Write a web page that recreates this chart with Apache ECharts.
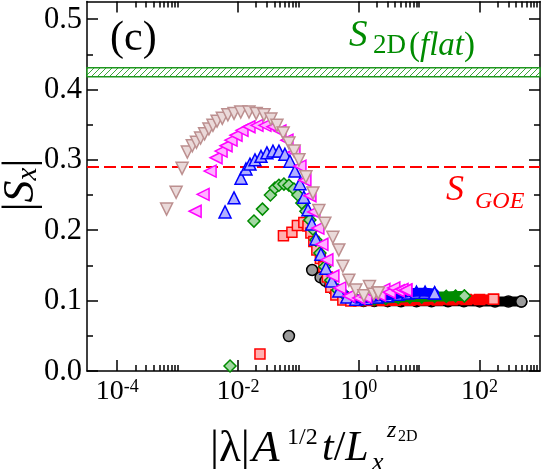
<!DOCTYPE html>
<html><head><meta charset="utf-8">
<script src="https://cdn.jsdelivr.net/npm/echarts@6/dist/echarts.min.js"></script>
<style>html,body{margin:0;padding:0;background:#fff}#c{width:543px;height:469px}</style>
</head><body><div id="c"></div><script>
// ---- tick values / labels ----
const xMajorTicks = [1e-4, 1e-2, 1, 100];
const xTickLabels = ['-4', '-2', '0', '2'];
const xMinorTicks = [2e-4,3e-4,4e-4,5e-4,6e-4,7e-4,8e-4,9e-4,1e-3,
                     2e-2,3e-2,4e-2,5e-2,6e-2,7e-2,8e-2,9e-2,1e-1,
                     2,3,4,5,6,7,8,9,10,
                     200,300,400,500,600,700,800,900];
const yMajorTicks = [0, 0.1, 0.2, 0.3, 0.4, 0.5];
const yTickLabels = ['0.0', '0.1', '0.2', '0.3', '0.4', '0.5'];
const yMinorTicks = [0.05, 0.15, 0.25, 0.35, 0.45];

// ---- reference levels ----
const sGOE = 0.2936;
const s2DLow = 0.418;
const s2DHigh = 0.431;

// ---- data ----
const blackX = [0.0697,0.169,0.233,0.281,0.340,0.386,0.467,0.603,0.882,1.2,1.8,3,5,9,16,30,55,100,180,300,490];
const blackY = [0.0497,0.1435,0.133,0.128,0.122,0.116,0.110,0.1055,0.1009,0.0995,0.0993,0.0992,0.0991,0.099,0.099,0.099,0.099,0.0989,0.0988,0.0987,0.0986];

const redX = [0.0231,0.0565,0.0781,0.0962,0.123,0.144,0.161,0.180,0.202,0.231,0.264,0.302,0.344,0.417,0.544,0.738,1.0,1.5,2.5,4,7,12,20,35,60,100,170];
const redY = [0.024,0.192,0.197,0.2067,0.211,0.206,0.196,0.184,0.172,0.160,0.148,0.1335,0.119,0.108,0.101,0.0995,0.0998,0.1,0.1003,0.1005,0.1007,0.101,0.101,0.1012,0.1015,0.1017,0.102];

const greenX = [0.00738,0.01837,0.0254,0.0344,0.0409,0.0476,0.0576,0.0697,0.0843,0.0981,0.114,0.133,0.155,0.174,0.195,0.227,0.274,0.344,0.450,0.610,0.859,1.2,1.8,2.8,4.5,7,11,18,28,40,56];
const greenY = [0.0071,0.213,0.230,0.250,0.260,0.264,0.2656,0.264,0.2585,0.250,0.2386,0.227,0.2145,0.2017,0.186,0.1676,0.148,0.129,0.115,0.1065,0.102,0.1015,0.102,0.103,0.104,0.105,0.105,0.106,0.106,0.1065,0.1065];

const blueX = [0.0061,0.00859,0.01122,0.01355,0.01578,0.0191,0.0240,0.0301,0.0379,0.0476,0.0598,0.0724,0.0875,0.106,0.123,0.144,0.167,0.195,0.236,0.285,0.358,0.467,0.633,0.892,1.3,2,3,4.5,6.5,9,12.5,18];
const blueY = [0.226,0.246,0.274,0.287,0.294,0.300,0.305,0.310,0.3125,0.3125,0.308,0.298,0.284,0.266,0.247,0.229,0.209,0.1875,0.166,0.146,0.128,0.1136,0.105,0.102,0.103,0.105,0.107,0.109,0.111,0.112,0.112,0.111];

const magentaX = [0.00195,0.00264,0.00345,0.00433,0.00524,0.00634,0.00766,0.00927,0.01164,0.0152,0.0206,0.0279,0.0379,0.0494,0.0646,0.0843,0.106,0.128,0.155,0.180,0.210,0.245,0.296,0.372,0.485,0.684,1.0,1.3,1.7,2.2,2.6,3.2,3.8,4.5,5.2,6.0];
const magentaY = [0.227,0.251,0.284,0.303,0.3125,0.320,0.328,0.335,0.342,0.347,0.349,0.349,0.347,0.341,0.328,0.311,0.291,0.271,0.249,0.226,0.203,0.180,0.158,0.135,0.118,0.1065,0.1037,0.105,0.11,0.108,0.116,0.112,0.118,0.114,0.116,0.115];

const brownX = [6.58e-4,9.44e-4,1.186e-3,1.45e-3,1.75e-3,2.05e-3,2.4e-3,2.8e-3,3.3e-3,3.85e-3,4.5e-3,5.5e-3,6.8e-3,8.6e-3,0.0111,0.0152,0.0200,0.0269,0.0350,0.0441,0.0560,0.0697,0.085,0.102,0.133,0.174,0.218,0.274,0.372,0.467,0.544,0.684,0.892,1.21,1.5,1.77,2.1];
const brownY = [0.230,0.254,0.288,0.311,0.320,0.325,0.331,0.337,0.344,0.349,0.355,0.359,0.364,0.366,0.368,0.368,0.366,0.364,0.358,0.349,0.338,0.324,0.3125,0.300,0.276,0.253,0.228,0.210,0.190,0.172,0.149,0.129,0.115,0.107,0.12,0.109,0.111];

const SERIF = '"Liberation Serif","Times New Roman",serif';

function makeHatch() {
  const c = document.createElement('canvas');
  c.width = 6; c.height = 6;
  const g = c.getContext('2d');
  g.fillStyle = '#ffffff'; g.fillRect(0,0,6,6);
  g.strokeStyle = '#3aa83a'; g.lineWidth = 1;
  g.beginPath();
  g.moveTo(-1,7); g.lineTo(7,-1);
  g.moveTo(-1,1); g.lineTo(1,-1);
  g.moveTo(5,7); g.lineTo(7,5);
  g.stroke();
  return c;
}

function curve(X, Y, color, fill, symbol, size, rot, bandWidth, z) {
  const pts = X.map((x, i) => [x, Y[i]]);
  const out = [{
    type: 'scatter', data: pts, symbol: symbol, symbolSize: size, symbolRotate: rot,
    itemStyle: { color: fill, borderColor: color, borderWidth: 1.5, opacity: 1 },
    z: z, clip: false, silent: true
  }];
  if (bandWidth) {
    out.push({
      type: 'line', data: pts.filter(p => p[0] >= 0.85), showSymbol: false,
      lineStyle: { color: color, width: bandWidth, cap: 'round', join: 'round' },
      z: z + 1, silent: true, clip: false
    });
  }
  out.push({
    type: 'scatter', data: [pts[pts.length - 1]], symbol: symbol, symbolSize: size, symbolRotate: rot,
    itemStyle: { color: fill, borderColor: color, borderWidth: 1.5, opacity: 1 },
    z: z + 2, clip: false, silent: true
  });
  return out;
}

const chart = echarts.init(document.getElementById('c'), null, { renderer: 'canvas' });
const XMIN = Math.pow(10, -4.5), XMAX = 1000;
const axisLineStyle = { color: '#000', width: 1.5 };

function xAx(pos, ticks, len, line) {
  return {
    type: 'log', logBase: 10, min: XMIN, max: XMAX, position: pos,
    axisLine: { show: line, onZero: false, lineStyle: axisLineStyle },
    axisTick: { show: true, inside: true, length: len, customValues: ticks, lineStyle: { color: '#000', width: 1.5 } },
    axisLabel: { show: false },
    splitLine: { show: false }, minorTick: { show: false }
  };
}
function yAx(pos, ticks, len, line) {
  return {
    type: 'value', min: 0, max: 0.525, position: pos,
    axisLine: { show: line, onZero: false, lineStyle: axisLineStyle },
    axisTick: { show: true, inside: true, length: len, customValues: ticks, lineStyle: { color: '#000', width: 1.5 } },
    axisLabel: { show: false },
    splitLine: { show: false }, minorTick: { show: false }
  };
}

const series = [];
series.push({
  type: 'line', data: [], xAxisIndex: 0, yAxisIndex: 0, z: 1, silent: true,
  markArea: {
    silent: true,
    itemStyle: { color: { image: makeHatch(), repeat: 'repeat' }, borderColor: '#1e961e', borderWidth: 1.5 },
    data: [[{ yAxis: s2DLow }, { yAxis: s2DHigh }]]
  },
  markLine: {
    silent: true, symbol: 'none', label: { show: false },
    lineStyle: { color: '#ff0000', width: 2.2, type: [12, 5] },
    data: [{ yAxis: sGOE }]
  }
});
series.push(...curve(blackX, blackY, '#000000', '#9c9c9c', 'circle', 11, 0, 10, 10));
series.push(...curve(redX, redY, '#ff0000', '#ffb0b0', 'rect', 10, 0, 10, 20));
series.push(...curve(greenX, greenY, '#008b00', '#a3d6a3', 'diamond', 12, 0, 10, 30));
series.push(...curve(blueX, blueY, '#0000ff', '#b0b0ff', 'triangle', 12, 0, 9, 40));
series.push(...curve(magentaX, magentaY, '#ff00ff', '#ffb0ff', 'triangle', 12, 90, 0, 50));
series.push(...curve(brownX, brownY, '#bc8f8f', '#ead9d9', 'triangle', 12, 180, 0, 60));

chart.setOption({
  animation: false,
  backgroundColor: '#fff',
  grid: { left: 87, right: 3, top: 1.5, bottom: 98, containLabel: false },
  xAxis: [
    xAx('bottom', xMajorTicks, 11, true),
    xAx('top', xMajorTicks, 11, true),
    xAx('bottom', xMinorTicks, 6, false),
    xAx('top', xMinorTicks, 6, false)
  ],
  yAxis: [
    yAx('left', yMajorTicks, 11, true),
    yAx('right', yMajorTicks, 11, true),
    yAx('left', yMinorTicks, 6, false),
    yAx('right', yMinorTicks, 6, false)
  ],
  series: series
});

// ---- texts ----
function t(x, y, text, fs, style, color, align) {
  return {
    type: 'text', x: x, y: y, z: 100, silent: true,
    style: { text: text, fontFamily: SERIF, fontSize: fs, fontStyle: style || 'normal', fill: color || '#000', align: align || 'left', verticalAlign: 'middle' }
  };
}
function rt(x, y, text, rich, align, valign, extra) {
  return Object.assign({
    type: 'text', x: x, y: y, z: 100, silent: true,
    style: { text: text, rich: rich, align: align || 'left', verticalAlign: valign || 'middle' }
  }, extra || {});
}
const G = '#008b00';
const graphic = [];

// tick labels placed through the axes' own scales
const axisLeft = chart.convertToPixel({ xAxisIndex: 0 }, XMIN);
const axisBottom = chart.convertToPixel({ yAxisIndex: 0 }, 0);
yMajorTicks.forEach((v, i) => {
  graphic.push(t(axisLeft - 5, chart.convertToPixel({ yAxisIndex: 0 }, v) + 0.5, yTickLabels[i], 30.5, 'normal', '#000', 'right'));
});
xMajorTicks.forEach((v, i) => {
  graphic.push(rt(chart.convertToPixel({ xAxisIndex: 0 }, v), axisBottom + 7, '{b|10}{s|' + xTickLabels[i] + '}', {
    b: { fontFamily: SERIF, fontSize: 28, fill: '#000', lineHeight: 28, verticalAlign: 'bottom' },
    s: { fontFamily: SERIF, fontSize: 18, fill: '#000', lineHeight: 18, verticalAlign: 'top', padding: [0, 0, 20, 0] }
  }, 'center', 'top'));
});

const U = (fs, c) => ({ fontFamily: SERIF, fontSize: fs, fill: c || '#000' });
const I = (fs, c) => ({ fontFamily: SERIF, fontSize: fs, fontStyle: 'italic', fill: c || '#000' });

graphic.push(t(110, 39, '(c)', 42));
graphic.push(t(349, 36, 'S', 37, 'italic', G));
graphic.push(t(373, 46, '2D', 27, 'normal', G));
graphic.push(rt(409, 46, '{u|(}{i|flat}{u|)}', { u: U(33, G), i: I(33, G) }));
graphic.push(t(446, 191, 'S', 36, 'italic', '#ff0000'));
graphic.push(t(475, 202, 'GOE', 24, 'italic', '#ff0000'));

// x-axis title
graphic.push(t(210, 449, '|λ|', 45));
graphic.push(t(252, 449, 'A', 45, 'italic'));
graphic.push(t(287, 438, '1/2', 24));
graphic.push(rt(322, 449, '{i|t}{u|/}{i|L}', { u: U(42), i: I(42) }));
graphic.push(t(372, 463, 'x', 26, 'italic'));
graphic.push(t(387, 431, 'z', 24, 'italic'));
graphic.push(t(398, 437, '2D', 16));

// y-axis title (rotated)
graphic.push(rt(21, 185, '{u||}{i|S}{sx|x}{u||}', {
  u: Object.assign(U(44), { lineHeight: 44 }),
  i: Object.assign(I(44), { lineHeight: 44 }),
  sx: Object.assign(I(29), { lineHeight: 29, verticalAlign: 'bottom' })
}, 'center', 'middle', { rotation: Math.PI / 2 }));

chart.setOption({ graphic: graphic });
</script></body></html>
